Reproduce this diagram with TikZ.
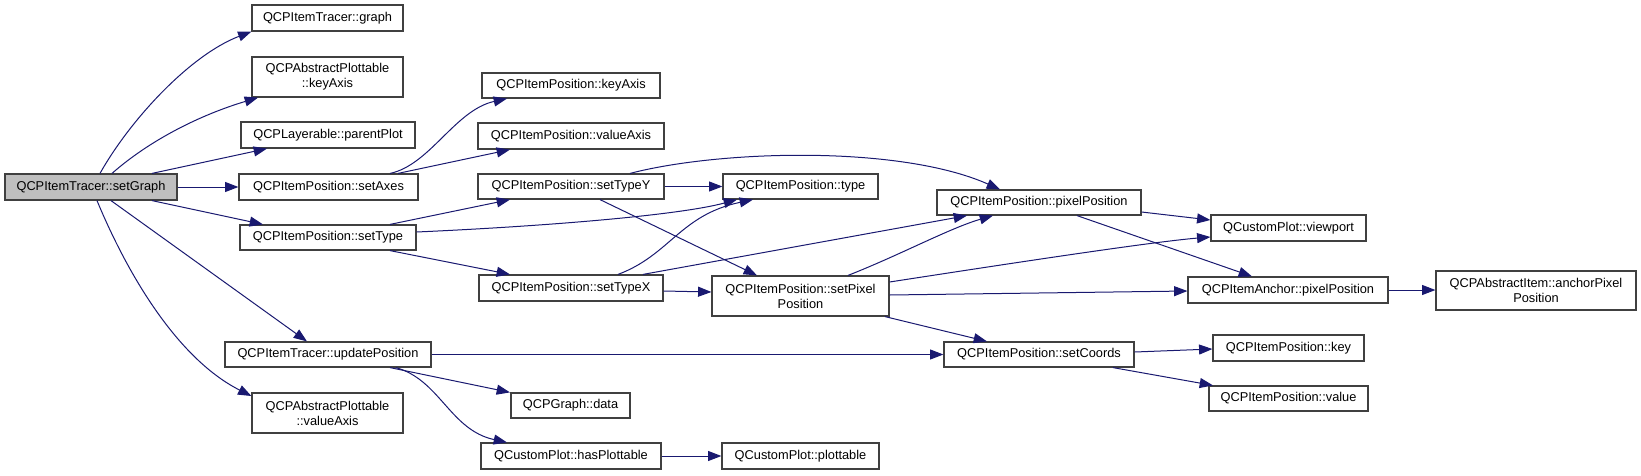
\documentclass[tikz,border=0pt]{standalone}
\usepackage{fontspec}
\setmainfont{Liberation Sans}
\usetikzlibrary{arrows.meta}
\definecolor{edgeblue}{HTML}{191970}
\definecolor{boxline}{HTML}{404040}
\definecolor{hilite}{HTML}{BFBFBF}
\begin{document}
\begin{tikzpicture}[x=0.75pt,y=-0.75pt,
  nd/.style={draw=boxline,line width=0.9pt,inner sep=0pt,align=center,
    font=\fontsize{9.6pt}{11.25pt}\selectfont},
  bx/.style 2 args={minimum width=#1*0.75pt,minimum height=#2*0.75pt},
  edge/.style={draw=edgeblue,line width=0.75pt,-{Triangle[length=10pt,width=7.5pt]}}]
\useasboundingbox (0,0) rectangle (1641,475);
% nodes
\node[nd,bx={172}{26},fill=hilite] (setGraph) at (91,187) {QCPItemTracer::setGraph};
\node[nd,bx={151}{26}] (graph) at (327.5,18) {QCPItemTracer::graph};
\node[nd,bx={151}{40}] (akey) at (327.5,77) {QCPAbstractPlottable\\::keyAxis};
\node[nd,bx={174}{26}] (parentPlot) at (328,135) {QCPLayerable::parentPlot};
\node[nd,bx={179}{26}] (setAxes) at (328.5,187) {QCPItemPosition::setAxes};
\node[nd,bx={176}{25}] (setType) at (328,237.5) {QCPItemPosition::setType};
\node[nd,bx={206}{25}] (updatePosition) at (328,354.5) {QCPItemTracer::updatePosition};
\node[nd,bx={151}{40}] (avalue) at (327.5,413) {QCPAbstractPlottable\\::valueAxis};
\node[nd,bx={178}{25}] (pkeyAxis) at (571,85.5) {QCPItemPosition::keyAxis};
\node[nd,bx={186}{26}] (pvalueAxis) at (571,136) {QCPItemPosition::valueAxis};
\node[nd,bx={186}{25}] (setTypeY) at (571,186.5) {QCPItemPosition::setTypeY};
\node[nd,bx={155}{25}] (type) at (800.5,186.5) {QCPItemPosition::type};
\node[nd,bx={184}{26}] (setTypeX) at (571,288) {QCPItemPosition::setTypeX};
\node[nd,bx={177}{40}] (setPixelPosition) at (800.5,296) {QCPItemPosition::setPixel\\Position};
\node[nd,bx={119}{25}] (data) at (570.5,405.5) {QCPGraph::data};
\node[nd,bx={180}{26}] (hasPlottable) at (571,456) {QCustomPlot::hasPlottable};
\node[nd,bx={157}{26}] (plottable) at (800.5,456) {QCustomPlot::plottable};
\node[nd,bx={204}{25}] (pixelPosition) at (1039,202.5) {QCPItemPosition::pixelPosition};
\node[nd,bx={155}{26}] (viewport) at (1288.5,228) {QCustomPlot::viewport};
\node[nd,bx={200}{26}] (anchorPP) at (1288,290) {QCPItemAnchor::pixelPosition};
\node[nd,bx={200}{39}] (anchorPixel) at (1536,290.5) {QCPAbstractItem::anchorPixel\\Position};
\node[nd,bx={190}{25}] (setCoords) at (1039,354.5) {QCPItemPosition::setCoords};
\node[nd,bx={151}{26}] (key) at (1288.5,348) {QCPItemPosition::key};
\node[nd,bx={159}{25}] (value) at (1288.5,398.5) {QCPItemPosition::value};
% edges from setGraph
\draw[edge] (setGraph.north -| 100,0) .. controls (130,120) and (190,55) .. (graph.south west);
\draw[edge] (setGraph.north -| 112,0) .. controls (150,140) and (200,115) .. (akey.south -| 258,0);
\draw[edge] (setGraph.north -| 152,0) -- (parentPlot.south -| 267,0);
\draw[edge] (setGraph.east) -- (setAxes.west);
\draw[edge] (setGraph.south -| 152,0) -- (setType.north -| 263,0);
\draw[edge] (setGraph.south -| 111,0) -- (updatePosition.north -| 307,0);
\draw[edge] (setGraph.south -| 97,0) .. controls (130,280) and (180,360) .. (avalue.west |- 0,396);
% setAxes
\draw[edge] (setAxes.north -| 390,0) .. controls (430,165) and (455,110) .. (pkeyAxis.south -| 507,0);
\draw[edge] (setAxes.north -| 398,0) -- (pvalueAxis.south -| 510,0);
% setType
\draw[edge] (setType.north -| 390,0) -- (setTypeY.south -| 510,0);
\draw[edge] (setType.east |- 0,232) .. controls (550,226) and (680,215) .. (type.south -| 737,0);
\draw[edge] (setType.south -| 390,0) -- (setTypeX.north -| 510,0);
% setTypeY
\draw[edge] (setTypeY.east) -- (type.west);
\draw[edge] (setTypeY.north -| 630,0) .. controls (720,150) and (900,145) .. (pixelPosition.north -| 1000,0);
\draw[edge] (setTypeY.south -| 600,0) -- (setPixelPosition.north -| 757,0);
% setTypeX
\draw[edge] (setTypeX.north -| 618,0) .. controls (670,255) and (680,215) .. (type.south -| 753,0);
\draw[edge] (setTypeX.north -| 643,0) -- (pixelPosition.south -| 967,0);
\draw[edge] (setTypeX.east |- 0,291) -- (setPixelPosition.west |- 0,292);
% setPixelPosition
\draw[edge] (setPixelPosition.north -| 848,0) .. controls (900,255) and (950,228) .. (pixelPosition.south -| 993,0);
\draw[edge] (setPixelPosition.east |- 0,282) .. controls (1000,265) and (1150,242) .. (viewport.west |- 0,237);
\draw[edge] (setPixelPosition.east |- 0,295) -- (anchorPP.west |- 0,291);
\draw[edge] (setPixelPosition.south -| 885,0) -- (setCoords.north -| 987,0);
% pixelPosition
\draw[edge] (pixelPosition.east |- 0,212) -- (viewport.west |- 0,220);
\draw[edge] (pixelPosition.south -| 1077,0) -- (anchorPP.north -| 1252,0);
\draw[edge] (anchorPP.east) -- (anchorPixel.west |- anchorPP.east);
% updatePosition
\draw[edge] (updatePosition.east) -- (setCoords.west);
\draw[edge] (updatePosition.south -| 390,0) -- (data.north -| 510,0);
\draw[edge] (updatePosition.south -| 396,0) .. controls (440,380) and (450,430) .. (hasPlottable.north -| 507,0);
\draw[edge] (hasPlottable.east) -- (plottable.west);
% setCoords
\draw[edge] (setCoords.east |- 0,352) -- (key.west |- 0,349);
\draw[edge] (setCoords.south -| 1113,0) -- (value.north -| 1213,0);
\end{tikzpicture}
\end{document}
